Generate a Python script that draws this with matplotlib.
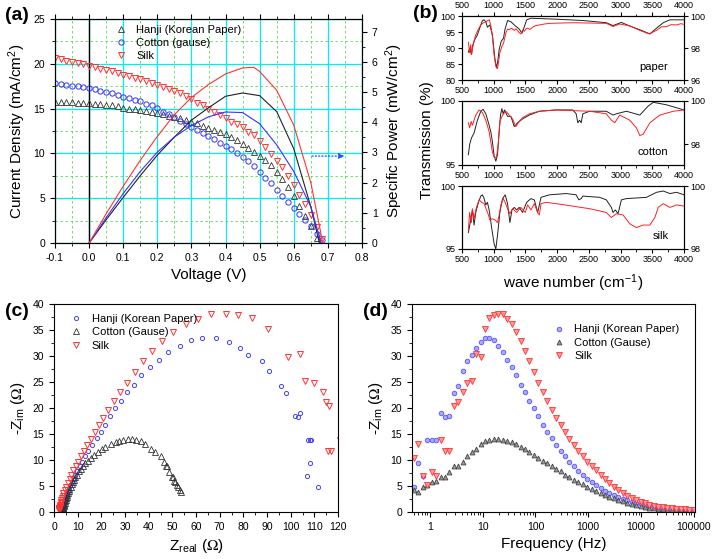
import numpy as np
import matplotlib.pyplot as plt
from matplotlib.ticker import MultipleLocator, FixedLocator, NullFormatter

plt.rcParams['font.family'] = ['Liberation Sans', 'DejaVu Sans']
plt.rcParams['mathtext.fontset'] = 'stix'

# ---------------- (a) J-V and power ----------------
volt = np.linspace(-0.1, 0.6833, 48)
j_silk = [20.6, 20.5, 20.35, 20.2, 20.1, 19.95, 19.7, 19.6, 19.4, 19.3, 19.2, 18.95,
          18.75, 18.6, 18.4, 18.25, 18.05, 17.9, 17.65, 17.45, 17.15, 17.0, 16.75, 16.45,
          16.05, 15.65, 15.35, 15.0, 14.6, 14.3, 14.0, 13.55, 13.3, 12.9, 12.4, 12.0,
          11.35, 10.7, 9.95, 9.2, 8.45, 7.5, 6.5, 5.4, 4.35, 3.1, 1.75, 0.5]
j_hanji = [15.7, 15.7, 15.75, 15.7, 15.65, 15.65, 15.65, 15.55, 15.5, 15.4, 15.35, 15.25,
           15.1, 15.0, 14.95, 14.85, 14.75, 14.65, 14.55, 14.4, 14.2, 14.05, 13.9, 13.75,
           13.55, 13.35, 13.1, 12.8, 12.6, 12.35, 12.15, 11.8, 11.45, 11.05, 10.6, 10.15,
           9.75, 9.25, 8.65, 7.9, 7.15, 6.3, 5.2, 4.1, 3.05, 1.85, 0.6]
j_cotton = [17.85, 17.7, 17.65, 17.55, 17.5, 17.4, 17.25, 17.15, 17.0, 16.85, 16.75, 16.5,
            16.35, 16.15, 16.0, 15.8, 15.5, 15.35, 15.05, 14.65, 14.4, 14.05, 13.65, 13.25,
            12.95, 12.6, 12.3, 11.95, 11.6, 11.2, 10.85, 10.5, 10.05, 9.6, 9.1, 8.55,
            7.9, 7.3, 6.65, 5.9, 5.25, 4.6, 3.95, 3.25, 2.55, 1.85, 1.0, 0.3]

pv_silk = [0, 0.05, 0.1, 0.15, 0.2, 0.25, 0.3, 0.35, 0.4, 0.45, 0.483, 0.5, 0.55, 0.6, 0.65, 0.685]
p_silk = [0, 0.97, 1.88, 2.74, 3.53, 4.25, 4.82, 5.25, 5.6, 5.8, 5.82, 5.68, 5.06, 3.9, 2.0, 0.0]
pv_hanji = [0, 0.05, 0.1, 0.15, 0.2, 0.25, 0.3, 0.35, 0.4, 0.45, 0.5, 0.55, 0.6, 0.65, 0.675]
p_hanji = [0, 0.77, 1.51, 2.23, 2.91, 3.51, 4.07, 4.48, 4.86, 4.97, 4.88, 4.35, 3.12, 1.2, 0.0]
pv_cotton = [0, 0.05, 0.1, 0.15, 0.2, 0.25, 0.3, 0.35, 0.4, 0.45, 0.5, 0.55, 0.6, 0.65, 0.68]
p_cotton = [0, 0.84, 1.64, 2.37, 3.01, 3.51, 3.89, 4.18, 4.34, 4.32, 3.95, 3.25, 2.37, 1.2, 0.0]

# ---------------- (b) FTIR ----------------
paper_k_wn = [600, 621, 648, 664, 701, 743, 796, 822, 850, 875, 901, 938, 980, 1020, 1044, 1065, 1086,
              1118, 1155, 1176, 1218, 1271, 1324, 1403, 1445, 1480, 1519, 1587, 1983, 2400, 2775, 2881,
              3013, 3092, 3303, 3462, 3567, 3673, 3778, 4000]
paper_k_t = [88.7, 90.0, 88.0, 90.5, 92.6, 94.1, 97.2, 98.6, 98.8, 98.2, 96.5, 97.2, 94.0, 86.5, 83.8,
             86.0, 89.5, 92.1, 93.1, 95.7, 98.6, 98.2, 97.2, 95.9, 94.6, 96.5, 98.8, 99.3, 99.0, 98.6,
             97.9, 97.0, 98.0, 97.3, 95.7, 94.4, 96.2, 97.9, 98.8, 98.8]
paper_r_wn = [600, 621, 637, 653, 680, 717, 759, 796, 838, 875, 930, 955, 980, 1005, 1033, 1060, 1097,
              1128, 1155, 1192, 1220, 1245, 1280, 1324, 1350, 1376, 1400, 1429, 1455, 1482, 1510, 1535,
              1570, 1614, 1660, 1720, 1800, 1878, 2247, 2775, 2881, 2986, 3145, 3303, 3451, 3567,
              3640, 3726, 3800, 3884, 3950, 4000]
paper_r_t = [91.8, 88.5, 91.0, 88.0, 91.5, 94.1, 95.9, 97.2, 97.9, 98.2, 98.8, 97.0, 93.6, 88.0, 84.3,
             83.5, 88.5, 90.5, 91.5, 94.8, 95.9, 95.7, 96.2, 95.5, 96.0, 95.5, 94.8, 94.4, 95.6, 95.2,
             96.0, 96.2, 95.8, 96.5, 97.0, 97.2, 97.5, 97.7, 97.9, 97.7, 96.7, 97.5, 96.9, 95.5, 94.4,
             95.5, 96.6, 96.7, 97.3, 97.2, 97.6, 97.4]

cotton_k_wn = [600, 621, 648, 690, 743, 796, 833, 875, 917, 954, 980, 1007, 1033, 1060, 1086, 1107,
               1128, 1150, 1171, 1218, 1271, 1324, 1376, 1455, 1561, 1720, 1983, 2247, 2300, 2326,
               2353, 2379, 2405, 2511, 2775, 2881, 2934, 3092, 3303, 3435, 3515, 3726, 4000]
cotton_k_t = [95.8, 96.6, 97.1, 97.5, 98.5, 99.2, 99.35, 99.0, 98.3, 97.6, 96.8, 95.7, 95.3, 95.8,
              97.6, 98.9, 99.4, 99.0, 99.3, 98.8, 98.8, 98.0, 98.3, 98.6, 98.9, 99.2, 99.3, 99.3,
              99.0, 98.3, 98.5, 98.3, 99.0, 99.2, 99.2, 98.9, 99.0, 99.2, 98.9, 99.6, 99.9, 99.7, 99.3]
cotton_r_wn = [600, 621, 643, 664, 717, 770, 822, 875, 928, 980, 1007, 1044, 1070, 1097, 1139, 1192,
               1245, 1297, 1350, 1403, 1455, 1561, 1720, 1983, 2511, 2775, 2855, 2908, 2986, 3145,
               3250, 3303, 3356, 3462, 3620, 3831, 4000]
cotton_r_t = [98.3, 97.9, 98.4, 98.1, 98.9, 99.3, 99.1, 98.5, 97.6, 96.0, 95.6, 95.6, 96.6, 98.4,
              98.9, 99.2, 98.9, 98.6, 98.0, 98.4, 98.7, 99.0, 99.2, 99.3, 99.2, 99.0, 98.5, 98.3,
              98.9, 98.5, 97.9, 97.3, 97.4, 98.3, 98.9, 99.2, 99.3]

silk_k_wn = [600, 637, 664, 690, 717, 759, 796, 822, 849, 875, 901, 928, 970, 1007, 1033, 1060, 1097,
             1139, 1181, 1218, 1255, 1287, 1324, 1361, 1403, 1455, 1519, 1587, 1640, 1693, 1746, 1878,
             2142, 2300, 2342, 2379, 2405, 2670, 2775, 2855, 2881, 2918, 2960, 3013, 3092, 3409,
             3567, 3673, 3778, 3884, 4000]
silk_k_t = [96.3, 97.3, 98.1, 96.9, 97.9, 98.7, 99.2, 99.3, 99.0, 98.5, 98.7, 98.1, 96.6, 95.4, 95.0,
            96.1, 97.9, 99.0, 99.3, 98.6, 97.1, 98.1, 98.3, 98.1, 98.3, 97.9, 98.7, 99.0, 98.9, 97.9,
            99.1, 99.3, 99.4, 99.3, 98.9, 99.0, 99.2, 99.1, 98.9, 98.3, 97.9, 98.1, 97.8, 98.9, 99.0,
            99.1, 99.5, 99.6, 99.4, 99.5, 99.3]
silk_r_wn = [600, 621, 648, 664, 690, 727, 770, 812, 849, 886, 917, 938, 980, 1023, 1060, 1086, 1113,
             1150, 1181, 1218, 1255, 1297, 1361, 1429, 1498, 1535, 1587, 1640, 1693, 1720, 1746, 1825,
             1983, 2247, 2511, 2775, 2855, 2934, 3039, 3145, 3250, 3356, 3462, 3541, 3594, 3673,
             3778, 3884, 4000]
silk_r_t = [96.5, 97.9, 97.1, 98.2, 97.4, 98.3, 98.9, 98.7, 98.6, 98.1, 97.7, 97.3, 97.4, 97.3, 97.1,
            97.7, 98.5, 99.0, 98.7, 98.2, 97.8, 98.2, 97.9, 98.3, 97.9, 98.5, 98.1, 98.6, 97.9, 97.7,
            98.6, 98.7, 98.6, 98.4, 98.2, 97.9, 97.5, 97.8, 97.7, 97.0, 96.7, 96.9, 96.9, 97.5, 98.3,
            98.6, 98.3, 98.5, 98.4]

# ---------------- (c)/(d) impedance ----------------
freq = np.logspace(np.log10(0.5), 5, 64)
hanji_zim = [4.8, 9.4, 6.9, 13.9, 13.85, 13.85, 19.0, 18.3, 18.5, 22.9, 24.2, 27.1, 29.0, 30.2, 31.5,
             32.7, 33.5, 33.5, 33.0, 32.0, 30.8, 29.3, 27.8, 26.3, 24.5, 23.0, 21.4, 20.0, 18.4, 16.8,
             15.4, 14.2, 12.9, 11.7, 10.7, 9.7, 8.8, 7.9, 7.2, 6.4, 5.8, 5.1, 4.55, 4.1, 3.65, 3.25,
             2.9, 2.55, 2.25, 2.0, 1.75, 1.5, 1.3, 1.1, 0.9, 0.75, 0.65, 0.5, 0.45, 0.38, 0.32, 0.25,
             0.2, 0.15]
hanji_zre = [111.5, 108.0, 106.9, 108.5, 107.3, 108.0, 103.8, 103.1, 101.7, 98.2, 96.1, 90.8, 87.9,
             82.1, 78.7, 73.8, 68.3, 62.7, 58.0, 53.1, 48.2, 44.2, 40.4, 36.9, 33.7, 30.8, 28.2, 25.6,
             23.6, 21.5, 19.7, 18.0, 16.2, 14.4, 13.0, 11.8, 10.8, 9.9, 9.0, 8.3, 7.6, 6.95, 6.4, 6.0,
             5.6, 5.3, 5.1, 4.8, 4.6, 4.45, 4.3, 4.1, 4.0, 3.9, 3.8, 3.75, 3.7, 3.6, 3.6, 3.55, 3.55,
             3.5, 3.5, 3.5]
cotton_zim = [4.2, 3.9, 4.8, 5.1, 5.7, 6.0, 6.8, 6.7, 7.6, 8.8, 8.8, 9.7, 10.7, 11.5, 12.1, 13.1, 13.6,
              13.9, 14.0, 14.1, 13.9, 13.7, 13.5, 13.1, 12.5, 12.1, 11.5, 10.9, 10.4, 9.9, 9.4, 8.8,
              8.3, 7.8, 7.2, 6.7, 6.2, 5.8, 5.3, 4.9, 4.4, 4.0, 3.65, 3.3, 2.95, 2.6, 2.3, 2.05, 1.8,
              1.6, 1.35, 1.15, 1.0, 0.85, 0.7, 0.6, 0.5, 0.45, 0.4, 0.35, 0.3, 0.25, 0.2, 0.2]
cotton_zre = [53.3, 53.6, 52.5, 52.0, 51.3, 50.8, 49.7, 50.1, 48.8, 47.9, 47.5, 46.3, 45.3, 42.6, 41.0,
              38.5, 36.6, 34.7, 33.0, 31.2, 29.2, 27.3, 26.1, 24.1, 21.6, 20.4, 18.5, 17.0, 15.7, 14.4,
              13.3, 12.1, 11.2, 10.4, 9.6, 9.0, 8.4, 7.9, 7.4, 7.0, 6.5, 6.2, 6.0, 5.7, 5.5, 5.2, 5.0,
              4.75, 4.55, 4.4, 4.2, 4.05, 3.95, 3.85, 3.75, 3.7, 3.65, 3.6, 3.55, 3.55, 3.5, 3.5,
              3.45, 3.45]
silk_zim = [10.4, 13.1, 6.9, 5.1, 7.7, 6.9, 13.9, 11.7, 11.7, 20.4, 21.1, 23.0, 24.9, 25.1, 30.3, 29.8,
            35.1, 37.3, 37.8, 38.1, 38.1, 37.1, 36.2, 34.6, 32.9, 31.0, 29.0, 27.0, 24.9, 23.1, 21.3,
            19.7, 18.1, 16.7, 15.3, 14.0, 12.9, 11.7, 10.7, 9.7, 8.9, 8.0, 7.2, 6.4, 5.6, 4.9, 4.3,
            3.65, 3.15, 2.7, 2.3, 2.0, 1.7, 1.4, 1.2, 1.0, 0.9, 0.77, 0.7, 0.64, 0.58, 0.52, 0.47, 0.45]
silk_zre = [126, 123, 128, 130, 127, 129, 121, 117.2, 115.8, 116.1, 115.1, 113.7, 109.9, 105.9, 103.8,
            98.9, 90.4, 83.7, 77.7, 72.8, 66.5, 60.8, 55.9, 50.3, 45.8, 41.4, 37.6, 34.1, 30.8, 27.7,
            25.4, 23.0, 20.8, 19.0, 17.2, 15.5, 14.1, 12.7, 11.3, 10.3, 9.2, 8.2, 7.3, 6.6, 5.8, 5.1,
            4.5, 4.0, 3.8, 3.4, 3.15, 2.95, 2.8, 2.65, 2.55, 2.4, 2.35, 2.3, 2.25, 2.2, 2.2, 2.15, 2.1,
            2.1]

W, H = 716, 559
fig = plt.figure(figsize=(W / 100, H / 100), dpi=100)


def box(l, t, r, b):
    return [l / W, 1 - b / H, (r - l) / W, (b - t) / H]


TICK = 7.5
LAB = 11

# ---- (a) ----
ax = fig.add_axes(box(55, 19, 362, 243))
ax.set_xlim(-0.1, 0.8)
ax.set_ylim(0, 25)
ax.xaxis.set_major_locator(MultipleLocator(0.1))
ax.xaxis.set_minor_locator(MultipleLocator(0.05))
ax.yaxis.set_major_locator(MultipleLocator(5))
ax.yaxis.set_minor_locator(MultipleLocator(2.5))
ax.grid(which='major', color='#00f0f0', lw=0.9)
ax.grid(which='minor', color='#55dd55', ls=(0, (3, 3)), lw=0.6)
ax.axvline(0, color='k', lw=1.0)
ax.set_xticklabels([f'{v:.1f}' for v in ax.get_xticks()])
ax.tick_params(direction='out', labelsize=TICK, top=True, which='both')
h1, = ax.plot(volt[:len(j_hanji)], j_hanji, ls='none', marker='^', ms=4.5, mfc='none', mec='#333333', mew=0.6)
h2, = ax.plot(volt, j_cotton, ls='none', marker='o', ms=3.8, mfc='none', mec='#3333ff', mew=0.7)
h3, = ax.plot(volt, j_silk, ls='none', marker='v', ms=4.5, mfc='none', mec='#ff3333', mew=0.7)
ax.set_xlabel('Voltage (V)', fontsize=LAB)
ax.set_ylabel('Current Density (mA/cm$^\\mathregular{2}$)', fontsize=LAB)
ax.annotate('', xy=(0.757, 9.7), xytext=(0.645, 9.7),
            arrowprops=dict(arrowstyle='-|>', color='#2255ff', ls=':', lw=0.9, mutation_scale=8))
ax.legend([h1, h2, h3], ['Hanji (Korean Paper)', 'Cotton (gause)', 'Silk'], loc='upper left',
          bbox_to_anchor=(0.16, 1.02), frameon=False, fontsize=8, handlelength=1.2,
          handletextpad=0.8, labelspacing=0.3)
ax2 = ax.twinx()
ax2.set_ylim(0, 7.42)
ax2.yaxis.set_major_locator(MultipleLocator(1))
ax2.yaxis.set_minor_locator(MultipleLocator(0.5))
ax2.tick_params(direction='out', labelsize=TICK, which='both')
ax2.plot(pv_hanji, p_hanji, color='#222222', lw=0.8)
ax2.plot(pv_cotton, p_cotton, color='#3333ff', lw=0.8)
ax2.plot(pv_silk, p_silk, color='#ff3333', lw=0.8)
ax2.set_ylabel('Specific Power (mW/cm$^\\mathregular{2}$)', fontsize=LAB)
fig.text(5 / W, 1 - 16 / H, '(a)', fontsize=14, fontweight='bold', va='center')

# ---- (b) ----
b_rows = [
    (16, 80, paper_k_wn, paper_k_t, paper_r_wn, paper_r_t, (80, 100), [80, 85, 90, 95, 100],
     (96, 100), [96, 98, 100], 'paper'),
    (101, 165, cotton_k_wn, cotton_k_t, cotton_r_wn, cotton_r_t, (95, 100), [95, 100],
     (97.03, 100), [98, 100], 'cotton'),
    (186, 249, silk_k_wn, silk_k_t, silk_r_wn, silk_r_t, (95, 100), [95, 100],
     (98, 100), [98, 100], 'silk'),
]
for i, (top, bot, kw, kt, rw, rt, ylim, yt, ylim2, yt2, name) in enumerate(b_rows):
    bx = fig.add_axes(box(462, top, 684, bot))
    bx.plot(kw, kt, color='#222222', lw=0.7)
    bx.plot(rw, rt, color='#ff2020', lw=0.7)
    bx.set_xlim(500, 4000)
    bx.set_ylim(*ylim)
    bx.xaxis.set_major_locator(MultipleLocator(500))
    bx.xaxis.set_minor_locator(MultipleLocator(250))
    bx.set_yticks(yt)
    bx.tick_params(direction='out', labelsize=6.5, length=3, pad=1.5, which='major')
    bx.tick_params(direction='out', length=1.8, which='minor')
    if i == 0:
        bx.tick_params(top=True, labeltop=True, which='both')
    tx = bx.twinx()
    tx.set_ylim(*ylim2)
    tx.set_yticks(yt2)
    tx.tick_params(direction='out', labelsize=6.5, length=3, pad=1.5)
    bx.text(0.93, 0.2, name, transform=bx.transAxes, ha='right', va='center', fontsize=8)
fig.text(427 / W, 1 - 140 / H, 'Transmission (%)', rotation=90, ha='center', va='center', fontsize=LAB)
fig.text(573 / W, 1 - 283 / H, 'wave number (cm$^\\mathregular{-1}$)', ha='center', va='center', fontsize=LAB)
fig.text(413 / W, 1 - 14 / H, '(b)', fontsize=14, fontweight='bold', va='center')

# ---- (c) ----
cx = fig.add_axes(box(54, 304, 338, 512))
l1, = cx.plot(hanji_zre, hanji_zim, ls='none', marker='o', ms=3.0, mfc='none', mec='#4444ff', mew=0.7)
l2, = cx.plot(cotton_zre, cotton_zim, ls='none', marker='^', ms=4.0, mfc='none', mec='#333333', mew=0.6)
l3, = cx.plot(silk_zre, silk_zim, ls='none', marker='v', ms=4.8, mfc='none', mec='#ff3333', mew=0.7)
cx.set_xlim(0, 120)
cx.set_ylim(0, 40)
cx.xaxis.set_major_locator(MultipleLocator(10))
cx.xaxis.set_minor_locator(MultipleLocator(5))
cx.yaxis.set_major_locator(MultipleLocator(5))
cx.yaxis.set_minor_locator(MultipleLocator(2.5))
cx.tick_params(direction='out', labelsize=TICK, which='both')
cx.set_xlabel('Z$_\\mathregular{real}$ ($\\Omega$)', fontsize=LAB)
cx.set_ylabel('-Z$_\\mathregular{im}$ ($\\Omega$)', fontsize=LAB)
cx.legend([l1, l2, l3], ['Hanji (Korean Paper)', 'Cotton (Gause)', 'Silk'], loc='upper left',
          bbox_to_anchor=(0.02, 1.0), frameon=False, fontsize=8, handlelength=1.2,
          handletextpad=0.8, labelspacing=0.3)
fig.text(5 / W, 1 - 312 / H, '(c)', fontsize=14, fontweight='bold', va='center')

# ---- (d) ----
dx = fig.add_axes(box(412, 304, 695, 512))
m1, = dx.plot(freq, hanji_zim, ls='none', marker='o', ms=3.3, mfc='#aaaaff', mec='#5555ff', mew=0.6)
m2, = dx.plot(freq, cotton_zim, ls='none', marker='^', ms=3.5, mfc='#999999', mec='#444444', mew=0.6)
m3, = dx.plot(freq, silk_zim, ls='none', marker='v', ms=3.8, mfc='#ff9999', mec='#ff3333', mew=0.6)
dx.set_xscale('log')
dx.set_xlim(0.46, 1.05e5)
dx.set_ylim(0, 40)
dx.xaxis.set_major_locator(FixedLocator([1, 10, 100, 1000, 10000, 100000]))
dx.set_xticklabels(['1', '10', '100', '1000', '10000', '100000'])
dx.xaxis.set_minor_formatter(NullFormatter())
dx.yaxis.set_major_locator(MultipleLocator(5))
dx.yaxis.set_minor_locator(MultipleLocator(2.5))
dx.tick_params(direction='out', labelsize=TICK, which='both')
dx.set_xlabel('Frequency (Hz)', fontsize=LAB)
dx.set_ylabel('-Z$_\\mathregular{im}$ ($\\Omega$)', fontsize=LAB)
dx.legend([m1, m2, m3], ['Hanji (Korean Paper)', 'Cotton (Gause)', 'Silk'], loc='upper left',
          bbox_to_anchor=(0.46, 0.95), frameon=False, fontsize=8, handlelength=1.2,
          handletextpad=0.8, labelspacing=0.3)
fig.text(363 / W, 1 - 312 / H, '(d)', fontsize=14, fontweight='bold', va='center')

fig.savefig('out.png', dpi=100)
